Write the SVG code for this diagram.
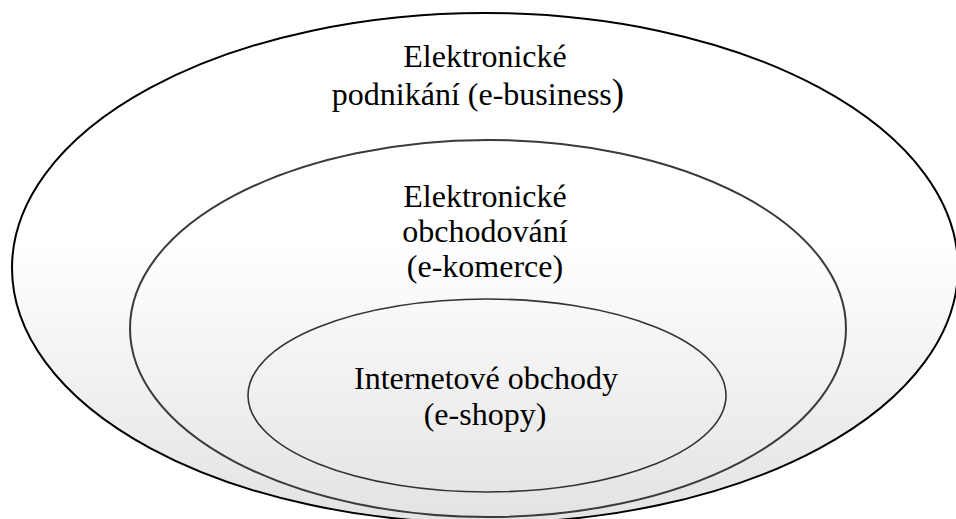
<svg xmlns="http://www.w3.org/2000/svg" width="956" height="519" viewBox="0 0 956 519">
  <defs>
    <linearGradient id="shade" gradientUnits="userSpaceOnUse" x1="0" y1="240" x2="0" y2="519">
      <stop offset="0" stop-color="#ffffff"/>
      <stop offset="1" stop-color="#e3e3e3"/>
    </linearGradient>
    <style>
      .lbl { font-family: "Liberation Serif", "Times New Roman", serif; font-size: 32px; fill: #000; text-anchor: middle; }
      .ring { fill: url(#shade); }
    </style>
  </defs>
  <rect width="956" height="519" fill="#ffffff"/>
  <g id="e-business">
    <ellipse class="ring" cx="485" cy="268" rx="473" ry="255" stroke="#000" stroke-width="2"/>
    <text class="lbl" x="485" y="67">Elektronické</text>
    <text class="lbl" x="478" y="105">podnikání (e-business<tspan font-size="37">)</tspan></text>
  </g>
  <g id="e-komerce">
    <ellipse class="ring" cx="488" cy="328.5" rx="358" ry="188.5" stroke="#3a3a3a" stroke-width="2"/>
    <text class="lbl" x="485" y="207">Elektronické</text>
    <text class="lbl" x="485" y="242">obchodování</text>
    <text class="lbl" x="485" y="277">(e-komerce)</text>
  </g>
  <g id="e-shopy">
    <ellipse class="ring" cx="487" cy="395.5" rx="239" ry="96.5" stroke="#333" stroke-width="1.6"/>
    <text class="lbl" x="486" y="389">Internetové obchody</text>
    <text class="lbl" x="485" y="425">(e-shopy)</text>
  </g>
  <g id="connectors"/>
</svg>
